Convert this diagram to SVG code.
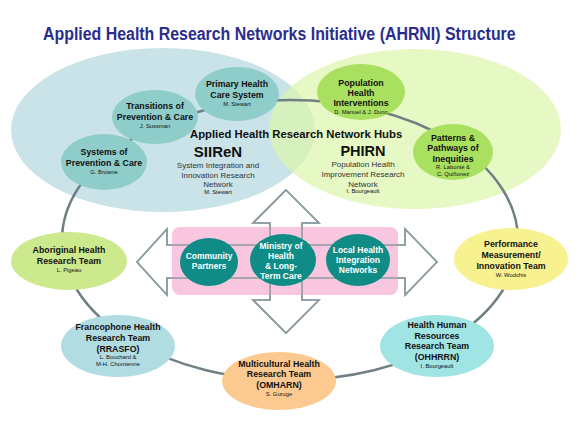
<svg xmlns="http://www.w3.org/2000/svg" width="580" height="435" viewBox="0 0 580 435">
<style>
text{font-family:"Liberation Sans",Arial,sans-serif;text-anchor:middle;fill:#111}
.t{font-size:8.8px;font-weight:bold}
.n{font-size:5.8px}
.d{font-size:8px;fill:#333}
.w{font-size:8.5px;font-weight:bold;fill:#fff}
.arrow{stroke:#8c9ca1;stroke-width:1.6;stroke-linejoin:miter}
</style>
<defs>
<polygon id="harrow" points="137,262 167,229 167,245 405,245 405,229 437,262 405,295 405,278 167,278 167,295"/>
<polygon id="varrow" points="286,190 319,223 302,223 302,300 319,300 286,333 253,300 270,300 270,223 253,223"/>
</defs>
<rect width="580" height="435" fill="#fff"/>
<text transform="translate(43,40) scale(0.837,1)" x="0" y="0" font-size="19" font-weight="bold" style="text-anchor:start;fill:#2b2d8e">Applied Health Research Networks Initiative (AHRNI) Structure</text>

<g id="hubs">
<ellipse cx="163" cy="130" rx="152" ry="82" fill="#c9e3e9"/>
<ellipse cx="415" cy="129" rx="146" ry="80" fill="#dbf5ab" opacity="0.7"/>
</g>

<g id="connectors">
<ellipse cx="290" cy="240" rx="228" ry="140" fill="none" stroke="#6f7f84" stroke-width="2.5"/>
</g>

<g id="hub-labels">
<text x="190" y="138" font-size="11.3" font-weight="bold" style="text-anchor:start">Applied Health Research Network Hubs</text>
<text x="218" y="157" font-size="15" font-weight="bold">SIIReN</text>
<text class="d" x="218" y="168">System Integration and</text>
<text class="d" x="218" y="178">Innovation Research</text>
<text class="d" x="218" y="187">Network</text>
<text class="n" x="218" y="194">M. Stewart</text>
<text x="363" y="156" font-size="14.5" font-weight="bold">PHIRN</text>
<text class="d" x="363" y="167">Population Health</text>
<text class="d" x="363" y="177">Improvement Research</text>
<text class="d" x="363" y="187">Network</text>
<text class="n" x="363" y="193">I. Bourgeault</text>
</g>

<g id="arrows">
<use href="#harrow" fill="#fff" class="arrow"/>
<use href="#varrow" fill="#fff" class="arrow"/>
<rect x="172" y="227" width="226" height="68" rx="8" fill="#f9c6df"/>
<use href="#harrow" fill="none" class="arrow"/>
<use href="#varrow" fill="none" class="arrow"/>
</g>

<g id="primary-health">
<ellipse cx="237" cy="94" rx="42" ry="27" fill="#8fcdcb"/>
<text class="t" x="237" y="87">Primary Health</text>
<text class="t" x="237" y="98">Care System</text>
<text class="n" x="237" y="106">M. Stewart</text>
</g>
<g id="transitions">
<ellipse cx="155" cy="117" rx="43" ry="27" fill="#8fcdcb"/>
<text class="t" x="155" y="109">Transitions of</text>
<text class="t" x="155" y="120">Prevention &amp; Care</text>
<text class="n" x="155" y="128">J. Sussman</text>
</g>
<g id="systems">
<ellipse cx="104" cy="162" rx="43" ry="28" fill="#8fcdcb"/>
<text class="t" x="104" y="155">Systems of</text>
<text class="t" x="104" y="166">Prevention &amp; Care</text>
<text class="n" x="104" y="174">G. Browne</text>
</g>
<g id="population-health">
<ellipse cx="361" cy="92" rx="44" ry="28" fill="#a9e060"/>
<text class="t" x="361" y="86">Population</text>
<text class="t" x="361" y="96">Health</text>
<text class="t" x="361" y="106">Interventions</text>
<text class="n" x="361" y="114">D. Manuel &amp;  J. Dunn</text>
</g>
<g id="patterns">
<ellipse cx="453" cy="152" rx="40" ry="28" fill="#a9e060"/>
<text class="t" x="453" y="141">Patterns &amp;</text>
<text class="t" x="453" y="151">Pathways of</text>
<text class="t" x="453" y="162">Inequities</text>
<text class="n" x="453" y="169">R. Labonté &amp;</text>
<text class="n" x="453" y="176">C. Quiñonez</text>
</g>
<g id="aboriginal">
<ellipse cx="69" cy="261" rx="58" ry="29" fill="#cce98e"/>
<text class="t" x="69" y="253">Aboriginal Health</text>
<text class="t" x="69" y="264">Research Team</text>
<text class="n" x="69" y="272">L. Pigeau</text>
</g>
<g id="performance">
<ellipse cx="511" cy="259" rx="57" ry="31" fill="#f8f18f"/>
<text class="t" x="511" y="247">Performance</text>
<text class="t" x="511" y="258">Measurement/</text>
<text class="t" x="511" y="269">Innovation Team</text>
<text class="n" x="511" y="277">W. Wodchis</text>
</g>
<g id="francophone">
<ellipse cx="118" cy="346" rx="57" ry="31" fill="#b1dce2"/>
<text class="t" x="118" y="330">Francophone Health</text>
<text class="t" x="118" y="341">Research Team</text>
<text class="t" x="118" y="352">(RRASFO)</text>
<text class="n" x="118" y="359">L. Bouchard &amp;</text>
<text class="n" x="118" y="366">M-H. Chomienne</text>
</g>
<g id="multicultural">
<ellipse cx="279" cy="381" rx="57" ry="29" fill="#fcca90"/>
<text class="t" x="279" y="367">Multicultural Health</text>
<text class="t" x="279" y="377">Research Team</text>
<text class="t" x="279" y="388">(OMHARN)</text>
<text class="n" x="279" y="396">S. Guruge</text>
</g>
<g id="hhr">
<ellipse cx="437" cy="346" rx="57" ry="31" fill="#a0e4e4"/>
<text class="t" x="437" y="328">Health Human</text>
<text class="t" x="437" y="339">Resources</text>
<text class="t" x="437" y="349">Research Team</text>
<text class="t" x="437" y="360">(OHHRRN)</text>
<text class="n" x="437" y="368">I. Bourgeault</text>
</g>
<g id="community">
<ellipse cx="209" cy="262" rx="29" ry="24" fill="#0f8c86"/>
<text class="w" x="209" y="259">Community</text>
<text class="w" x="209" y="269">Partners</text>
</g>
<g id="ministry">
<ellipse cx="283" cy="260" rx="33" ry="26" fill="#0f8c86"/>
<text class="w" x="281" y="249">Ministry of</text>
<text class="w" x="281" y="259">Health</text>
<text class="w" x="281" y="269">&amp; Long-</text>
<text class="w" x="281" y="279">Term Care</text>
</g>
<g id="lhin">
<ellipse cx="358" cy="260" rx="32" ry="26" fill="#0f8c86"/>
<text class="w" x="358" y="253">Local Health</text>
<text class="w" x="358" y="263">Integration</text>
<text class="w" x="358" y="273">Networks</text>
</g>
</svg>
